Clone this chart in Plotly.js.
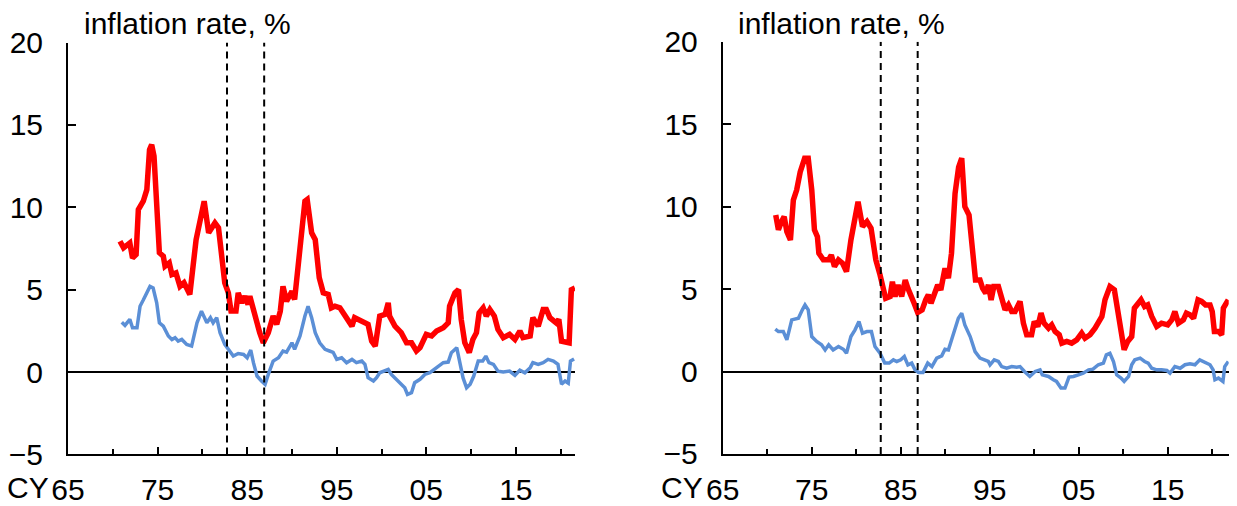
<!DOCTYPE html>
<html>
<head>
<meta charset="utf-8">
<script src="https://cdn.plot.ly/plotly-3.0.1.min.js"></script>
<style>
  html, body { margin: 0; padding: 0; background: #fff; }
  #myDiv { width: 1237px; height: 506px; }
</style>
</head>
<body>
<div id="myDiv"></div>
<script>
// left panel (year, % )
var leftRedX = [1970.8, 1971.2, 1971.9, 1972.2, 1972.6, 1972.85, 1973.4, 1973.8, 1974.1, 1974.34, 1974.6, 1974.9,
    1975.2, 1975.64, 1975.83, 1976.3, 1976.6, 1977.05, 1977.5, 1977.95, 1978.6, 1979.3, 1979.7, 1980.2, 1980.7,
    1981.0, 1981.4, 1981.8, 1982.15, 1982.5, 1982.9, 1983.2, 1983.75, 1984.0, 1984.4, 1984.75, 1985.1, 1985.3,
    1985.7, 1986.1, 1986.4, 1986.8, 1987.36, 1987.9, 1988.3, 1988.7, 1989.0, 1989.4, 1990.0, 1990.3, 1990.9,
    1991.45, 1991.7, 1992.2, 1992.6, 1993.05, 1993.5, 1994.05, 1994.4, 1994.8, 1995.35, 1995.9, 1996.7, 1997.0,
    1997.8, 1998.5, 1998.9, 1999.3, 1999.8, 2000.4, 2000.75, 2000.9, 2001.5, 2001.9, 2002.2, 2002.8, 2003.35,
    2003.9, 2004.3, 2005.0, 2005.6, 2006.15, 2006.9, 2007.45, 2007.6, 2008.2, 2008.6, 2008.9, 2009.3, 2009.8,
    2010.2, 2010.6, 2010.9, 2011.35, 2011.7, 2012.1, 2012.6, 2013.0, 2013.6, 2014.3, 2014.9, 2015.45, 2015.8,
    2016.6, 2016.9, 2017.5, 2018.05, 2018.4, 2018.8, 2019.5, 2019.8, 2020.1, 2020.65, 2020.95, 2021.2, 2021.6];
var leftRedY = [7.94, 7.54, 7.84, 6.93, 7.13, 9.86, 10.37, 11.07, 13.5, 13.8, 13.1, 10.67,
    7.24, 7.03, 6.43, 6.63, 5.92, 6.02, 5.2, 5.42, 4.71, 8.04, 9.05, 10.37, 8.45,
    8.75, 9.05, 8.75, 6.83, 5.42, 4.81, 3.7, 3.7, 4.81, 4.2, 4.61, 4.1, 4.61,
    3.8, 2.79, 2.39, 1.78, 2.39, 3.4, 2.9, 3.7, 5.2, 4.3, 4.9, 4.4, 7.84,
    10.37, 10.47, 8.45, 8.04, 5.72, 4.81, 4.71, 3.9, 4.0, 3.9, 3.5, 2.79, 3.3,
    3.1, 2.9, 1.88, 1.58, 3.4, 3.5, 4.2, 3.4, 2.79, 2.49, 2.39, 1.78, 1.78,
    1.28, 1.48, 2.29, 2.19, 2.49, 2.69, 2.99, 4.0, 4.81, 5.0, 3.2, 1.78, 1.18,
    1.98, 2.39, 3.6, 3.9, 3.4, 3.8, 3.4, 2.59, 2.09, 2.29, 1.98, 2.49, 2.09,
    2.19, 3.3, 2.79, 3.8, 3.8, 3.3, 2.99, 3.2, 1.88, 1.78, 1.78, 5.0, 5.1];

var leftBlueX = [1971.0, 1971.36, 1971.9, 1972.2, 1972.7, 1973.04, 1973.4, 1973.8, 1974.15, 1974.5, 1974.9,
    1975.2, 1975.64, 1976.2, 1976.6, 1976.95, 1977.3, 1977.7, 1978.25, 1978.8, 1979.4, 1979.9, 1980.5, 1980.9,
    1981.2, 1981.6, 1981.97, 1982.5, 1983.0, 1983.45, 1984.0, 1984.6, 1985.0, 1985.4, 1985.7, 1986.1, 1986.6,
    1987.0, 1987.36, 1987.9, 1988.5, 1989.0, 1989.4, 1990.0, 1990.3, 1990.9, 1991.45, 1991.8, 1992.2, 1992.6,
    1993.1, 1993.7, 1994.2, 1994.6, 1995.0, 1995.55, 1996.1, 1996.7, 1997.2, 1997.8, 1998.15, 1998.5, 1999.1,
    1999.45, 1999.8, 2000.4, 2000.75, 2001.1, 2001.7, 2002.24, 2002.6, 2002.9, 2003.35, 2003.7, 2004.3, 2004.84,
    2005.4, 2006.15, 2006.9, 2007.45, 2007.8, 2008.4, 2008.75, 2009.1, 2009.5, 2009.9, 2010.3, 2010.8, 2011.3,
    2011.65, 2012.0, 2012.5, 2013.0, 2013.6, 2014.3, 2014.9, 2015.45, 2016.0, 2016.6, 2016.9, 2017.5, 2018.05,
    2018.6, 2019.2, 2019.7, 2020.1, 2020.5, 2020.85, 2021.1, 2021.5];
var leftBlueY = [3.03, 2.83, 3.2, 2.69, 2.69, 4.0, 4.37, 4.81, 5.2, 5.1, 4.2,
    2.99, 2.79, 2.19, 1.98, 2.09, 1.88, 1.98, 1.68, 1.58, 2.99, 3.7, 2.99, 3.3,
    2.99, 3.3, 2.39, 1.68, 1.28, 0.97, 1.13, 1.07, 0.87, 1.34, 0.57, -0.24, -0.54,
    -0.74, -0.14, 0.67, 0.87, 1.28, 1.21, 1.78, 1.38, 2.19, 3.4, 4.0, 3.3, 2.39,
    1.78, 1.38, 1.28, 1.2, 0.77, 0.87, 0.57, 0.77, 0.57, 0.67, 0.47, -0.34, -0.54,
    -0.34, -0.04, 0.06, 0.16, -0.14, -0.44, -0.74, -0.95, -1.35, -1.25, -0.64, -0.44, -0.14,
    -0.04, 0.27, 0.57, 0.61, 1.18, 1.48, 0.67, -0.34, -0.95, -0.74, -0.24, 0.67, 0.67,
    0.97, 0.57, 0.47, 0.06, 0.0, 0.06, -0.2, 0.12, -0.04, 0.27, 0.57, 0.47, 0.57,
    0.77, 0.67, 0.47, -0.74, -0.54, -0.67, 0.67, 0.8];

// right panel
var rightRedX = [1970.95, 1971.25, 1971.6, 1971.9, 1972.2, 1972.6, 1972.93, 1973.3, 1973.7, 1974.2, 1974.6,
    1975.0, 1975.3, 1975.63, 1975.8, 1976.3, 1976.9, 1977.2, 1977.55, 1978.0, 1978.45, 1978.9, 1979.4, 1979.86,
    1980.2, 1980.7, 1981.2, 1981.66, 1981.9, 1982.2, 1982.67, 1983.05, 1983.3, 1983.8, 1984.06, 1984.36, 1984.7,
    1985.1, 1985.5, 1985.8, 1986.15, 1986.5, 1986.9, 1987.4, 1987.8, 1988.1, 1988.4, 1988.85, 1989.15, 1989.5,
    1989.97, 1990.35, 1990.7, 1991.1, 1991.5, 1991.85, 1992.2, 1992.67, 1993.05, 1993.4, 1993.9, 1994.2, 1994.55,
    1994.85, 1995.15, 1995.45, 1995.97, 1996.34, 1996.72, 1997.1, 1997.47, 1997.84, 1998.4, 1998.78, 1999.15,
    1999.7, 2000.0, 2000.4, 2000.76, 2001.1, 2001.6, 2001.96, 2002.34, 2002.8, 2003.1, 2003.65, 2004.2, 2004.77,
    2005.33, 2005.7, 2006.27, 2006.83, 2007.2, 2007.6, 2007.95, 2008.5, 2009.0, 2009.45, 2009.8, 2010.1, 2010.5,
    2010.95, 2011.25, 2011.6, 2012.0, 2012.4, 2012.75, 2013.2, 2013.76, 2014.3, 2015.0, 2015.45, 2015.8, 2016.2,
    2016.75, 2017.1, 2017.5, 2017.9, 2018.4, 2018.8, 2019.25, 2019.75, 2020.0, 2020.24, 2020.7, 2021.06, 2021.25,
    2021.8];
var rightRedY = [9.49, 8.59, 9.09, 9.39, 8.48, 7.98, 10.4, 11.0, 12.1, 12.93, 12.93,
    11.0, 8.59, 8.18, 7.17, 6.77, 6.77, 7.07, 6.36, 6.77, 6.57, 6.06, 7.98, 9.6,
    10.3, 8.79, 9.09, 8.69, 7.98, 6.77, 5.86, 5.15, 4.44, 4.55, 5.45, 4.55, 5.25,
    4.55, 5.55, 5.05, 4.65, 4.14, 3.58, 3.74, 4.34, 4.65, 4.14, 4.85, 5.25, 4.95,
    6.26, 5.66, 7.17, 10.8, 12.4, 12.93, 10.0, 9.49, 7.07, 5.55, 5.55, 5.05, 4.75,
    5.25, 4.34, 5.15, 5.15, 4.45, 3.74, 4.04, 3.64, 3.64, 4.25, 2.93, 2.23,
    2.23, 3.03, 2.73, 3.54, 2.93, 2.63, 2.83, 2.43, 2.23, 1.72, 1.82, 1.72, 1.92,
    2.33, 2.02, 2.23, 2.63, 2.93, 3.34, 4.35, 5.15, 4.95, 3.54, 2.12, 1.32, 1.82,
    2.12, 3.84, 4.04, 4.35, 3.94, 4.04, 3.34, 2.73, 2.93, 2.83, 3.13, 3.64, 2.93,
    3.13, 3.54, 3.44, 3.23, 4.35, 4.25, 4.04, 4.04, 3.64, 2.43, 2.43, 2.23, 3.84,
    4.35];

var rightBlueX = [1970.9, 1971.25, 1971.8, 1972.2, 1972.75, 1973.5, 1973.94, 1974.24, 1974.6, 1975.0, 1975.55,
    1976.1, 1976.5, 1976.9, 1977.4, 1978.0, 1978.55, 1978.9, 1979.4, 1979.86, 1980.3, 1980.7, 1981.2, 1981.7,
    1982.1, 1982.67, 1983.2, 1983.7, 1984.17, 1984.55, 1985.0, 1985.4, 1985.8, 1986.23, 1986.6, 1987.0, 1987.5,
    1988.03, 1988.5, 1989.04, 1989.6, 1989.97, 1990.35, 1990.9, 1991.47, 1991.85, 1992.2, 1992.8, 1993.35, 1993.9,
    1994.3, 1994.84, 1995.03, 1995.5, 1995.97, 1996.34, 1996.9, 1997.47, 1998.03, 1998.4, 1998.9, 1999.5, 2000.1,
    2000.65, 2000.9, 2001.6, 2002.15, 2002.5, 2003.0, 2003.45, 2003.9, 2004.4, 2004.96, 2005.5, 2006.1, 2006.6,
    2007.2, 2007.77, 2008.1, 2008.5, 2008.9, 2009.26, 2009.75, 2010.1, 2010.6, 2010.95, 2011.3, 2011.9, 2012.4,
    2012.8, 2013.2, 2013.76, 2014.3, 2014.9, 2015.25, 2015.8, 2016.4, 2016.94, 2017.5, 2018.06, 2018.6, 2019.2,
    2019.75, 2020.1, 2020.3, 2020.7, 2021.2, 2021.4, 2021.8];
var rightBlueY = [2.57, 2.42, 2.42, 1.92, 3.13, 3.23, 3.74, 4.04, 3.74, 2.12, 1.82,
    1.62, 1.31, 1.62, 1.31, 1.52, 1.35, 1.11, 2.12, 2.53, 3.03, 2.32, 2.42, 2.42,
    1.52, 1.11, 0.51, 0.51, 0.71, 0.61, 0.71, 0.91, 0.4, 0.51, 0.1, -0.06, -0.06,
    0.51, 0.3, 0.81, 0.95, 1.35, 1.31, 2.32, 3.23, 3.54, 2.83, 2.12, 1.21, 0.81,
    0.71, 0.61, 0.41, 0.71, 0.61, 0.3, 0.2, 0.3, 0.26, 0.3, 0.0, -0.3, 0.0,
    0.1, -0.2, -0.3, -0.5, -0.6, -1.0, -1.0, -0.34, -0.3, -0.2, -0.1, 0.1, 0.14,
    0.41, 0.51, 1.01, 1.11, 0.61, -0.2, -0.4, -0.6, -0.3, 0.41, 0.71, 0.81, 0.61,
    0.51, 0.2, 0.1, 0.1, 0.06, -0.1, 0.3, 0.2, 0.41, 0.47, 0.41, 0.71, 0.55,
    0.41, 0.1, -0.5, -0.4, -0.6, 0.3, 0.61];

// dashed markers, axis ticks
var markYears = [1982.75, 1986.9];
var majorYears = [1965, 1975, 1985, 1995, 2005, 2015];
var majorLabels = ['65', '75', '85', '95', '05', '15'];
var minorYears = [1970, 1980, 1990, 2000, 2010, 2020];
var yTicks = [-5, 0, 5, 10, 15, 20];
var panelTitle = 'inflation rate, %';

var FONT = 'Liberation Sans, Arial, sans-serif',
    FSIZE = 30,
    RED = '#ff0000',
    BLUE = '#5b8fd6';

function line(x, y, color, width, xa, ya) {
    'use strict';
    return {
        x: x, y: y,
        xaxis: xa, yaxis: ya,
        mode: 'lines',
        type: 'scatter',
        line: {color: color, width: width, shape: 'linear'},
        hoverinfo: 'skip'
    };
}

function xAxis(domain, range, anchor) {
    'use strict';
    return {
        domain: domain, range: range, anchor: anchor,
        showline: true, linecolor: '#000', linewidth: 2,
        showgrid: false, zeroline: false,
        ticks: 'inside', ticklen: 7, tickwidth: 2, tickcolor: '#000',
        tickmode: 'array', tickvals: majorYears, ticktext: majorLabels,
        minor: {tickmode: 'array', tickvals: minorYears, ticks: 'inside', ticklen: 5, tickwidth: 2, tickcolor: '#000'},
        ticklabelstandoff: 8,
        tickfont: {family: FONT, size: FSIZE, color: '#000'}
    };
}

function yAxis(domain, anchor) {
    'use strict';
    return {
        domain: domain, range: [-5, 20], anchor: anchor,
        showline: true, linecolor: '#000', linewidth: 2,
        showgrid: false,
        zeroline: true, zerolinecolor: '#000', zerolinewidth: 2,
        ticks: 'inside', ticklen: 8, tickwidth: 2, tickcolor: '#000',
        tickmode: 'array', tickvals: yTicks,
        ticklabelstandoff: 17,
        tickfont: {family: FONT, size: FSIZE, color: '#000'}
    };
}

var data = [
    line(leftRedX, leftRedY, RED, 5.5, 'x', 'y'),
    line(leftBlueX, leftBlueY, BLUE, 3.5, 'x', 'y'),
    line(rightRedX, rightRedY, RED, 5.5, 'x2', 'y2'),
    line(rightBlueX, rightBlueY, BLUE, 3.5, 'x2', 'y2')
];

var shapes = [];
[['x', 'y'], ['x2', 'y2']].forEach(function (p) {
    markYears.forEach(function (yr) {
        shapes.push({
            type: 'line', xref: p[0], yref: p[1],
            x0: yr, x1: yr, y0: -5, y1: 20,
            line: {color: '#000', width: 2, dash: '7px,5px'}
        });
    });
});

var annotations = [
    {text: panelTitle, xref: 'paper', yref: 'paper', x: 0.066, y: 0.953, xanchor: 'left', yanchor: 'middle', showarrow: false},
    {text: panelTitle, xref: 'paper', yref: 'paper', x: 0.595, y: 0.953, xanchor: 'left', yanchor: 'middle', showarrow: false},
    {text: 'CY', xref: 'paper', yref: 'paper', x: 0.0225, y: 0.0, xanchor: 'center', yanchor: 'bottom', showarrow: false},
    {text: 'CY', xref: 'paper', yref: 'paper', x: 0.551, y: 0.0, xanchor: 'center', yanchor: 'bottom', showarrow: false}
];

var layout = {
    width: 1237, height: 506,
    margin: {l: 0, r: 0, t: 0, b: 0},
    paper_bgcolor: '#fff', plot_bgcolor: '#fff',
    showlegend: false,
    font: {family: FONT, size: FSIZE, color: '#000'},
    xaxis: xAxis([0.055, 0.4648], [1965, 2021.6], 'y'),
    yaxis: yAxis([0.1018, 0.916], 'x'),
    xaxis2: xAxis([0.5843, 0.9933], [1965, 2021.85], 'y2'),
    yaxis2: yAxis([0.1028, 0.9176], 'x2'),
    shapes: shapes,
    annotations: annotations
};

Plotly.newPlot('myDiv', data, layout, {staticPlot: true, displayModeBar: false});
</script>
</body>
</html>
